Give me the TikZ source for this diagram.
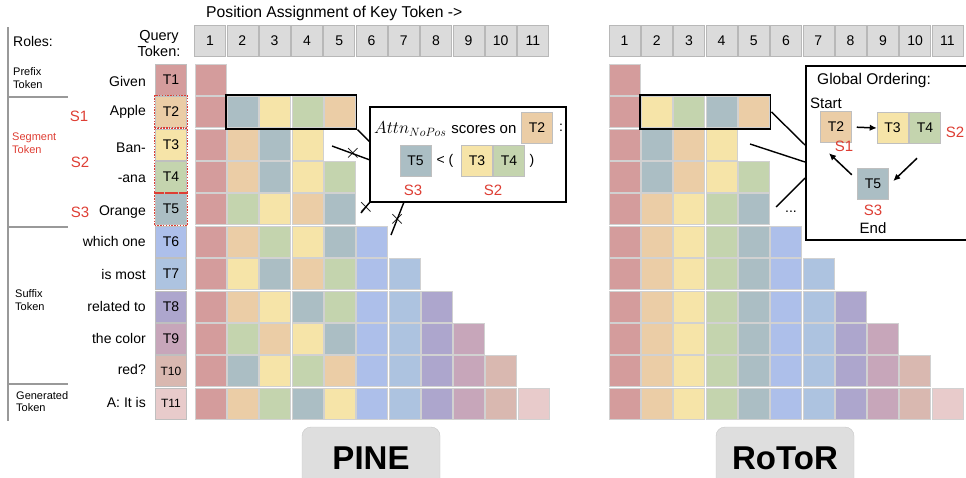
\documentclass[tikz,border=0pt]{standalone}
\usepackage{fontspec}
\setmainfont{Liberation Sans}
\usetikzlibrary{positioning,calc,fit,arrows.meta}
\definecolor{cR}{RGB}{212,156,156}
\definecolor{cO}{RGB}{235,205,166}
\definecolor{cY}{RGB}{246,228,168}
\definecolor{cG}{RGB}{196,212,174}
\definecolor{cB}{RGB}{171,190,196}
\definecolor{cL}{RGB}{173,191,234}
\definecolor{cK}{RGB}{173,195,224}
\definecolor{cP}{RGB}{173,166,205}
\definecolor{cM}{RGB}{199,166,186}
\definecolor{cN}{RGB}{217,184,176}
\definecolor{cW}{RGB}{232,203,203}
\definecolor{sred}{RGB}{222,62,52}
\newcommand{\fsz}[2]{\fontsize{#1}{#2}\selectfont}

\begin{document}
\begin{tikzpicture}
  [
    x=1pt, y=-1pt,
    Cell/.style={rectangle, draw=black!18, line width=0.5pt, minimum size=31pt, inner sep=0pt},
    Head/.style={Cell, fill=black!14, draw=black!28, font=\fsz{14}{16}},
    Tok/.style={Cell, draw=black!25, font=\fsz{14}{16}},
    Word/.style={anchor=base east, inner sep=0pt, font=\fsz{14}{16}},
    Role/.style={anchor=west, align=left, inner sep=0pt, font=\fsz{11}{12.5}},
    Seg/.style={text=sred, inner sep=0pt, font=\fsz{15}{17}},
    Hl/.style={draw=black, line width=1.6pt, inner sep=1.2pt},
    Dot/.style={draw=sred, line width=1.5pt, dash pattern=on 1.4pt off 1.4pt, inner sep=0.6pt},
    Callout/.style={rectangle, draw=black, line width=1.5pt, fill=white},
    Link/.style={line width=1.4pt},
    Arr/.style={-{Latex[length=7pt,width=6.5pt]}, line width=1.5pt},
    Xmark/.style={inner sep=0pt, font=\fsz{22}{22}},
    Btn/.style={rounded corners=9pt, fill=black!13, draw=black!22, font=\bfseries\fsz{33}{36}}
  ]
  \useasboundingbox (0,0) rectangle (966,477);

  % Roles column
  \draw[black!40, line width=2pt] (8,27) -- (8,421);
  \draw[black!40, line width=2pt] (8,97) -- (68,97);
  \draw[black!40, line width=2pt] (8,227) -- (68,227);
  \draw[black!40, line width=2pt] (8,384) -- (68,384);
  \node[Role, font=\fsz{14}{16}] (roles) at (13,41) {Roles:};
  \node[Role] (prefix) at (13,78) {Prefix\\Token};
  \node[Role, text=sred] (segment) at (12,143) {Segment\\Token};
  \node[Role] (suffix) at (15,300) {Suffix\\Token};
  \node[Role] (generated) at (16,401.5) {Generated\\Token};
  \node[Seg] (s1) at (79,116) {S1};
  \node[Seg] (s2) at (80,162) {S2};
  \node[Seg] (s3) at (80,212) {S3};

  % Words and query tokens
  \node[align=center, font=\fsz{14.5}{16}] (qt) at (159,44) {Query\\Token:};
  \node[Word] (w1) at (146,86) {Given};
  \node[Word] (w2) at (146,115) {Apple};
  \node[Word] (w3) at (146,152) {Ban-};
  \node[Word] (w4) at (146,182) {-ana};
  \node[Word] (w5) at (146,215) {Orange};
  \node[Word] (w6) at (146,246) {which one};
  \node[Word] (w7) at (146,279) {is most};
  \node[Word] (w8) at (146,311) {related to};
  \node[Word] (w9) at (146,343) {the color};
  \node[Word] (w10) at (146,374) {red?};
  \node[Word] (w11) at (146,407) {A: It is};
  \foreach \t/\cc/\fs in {1/cR/14, 2/cO/14, 3/cY/14, 4/cG/14, 5/cB/14, 6/cL/14,
      7/cK/14, 8/cP/14, 9/cM/14, 10/cN/12, 11/cW/12}
    \node[Tok, fill=\cc, font=\fsz{\fs}{\fs}] (q\t) at (171, {79.5+(\t-1)*32.4}) {T\t};
  \node[Dot, fit=(q2)] (d2) {};
  \node[Dot, fit=(q3)(q4)] (d34) {};
  \node[Dot, fit=(q5)] (d5) {};

  % Key positions
  \node[anchor=west, inner sep=0pt, font=\fsz{15.7}{17}] (keypos) at (206,13) {Position Assignment of Key Token ->};
  \foreach \c in {1,...,11} {
    \node[Head] (ph\c) at ({210+(\c-1)*32.3}, 41) {\c};
    \node[Head] (rh\c) at ({624.5+(\c-1)*32.3}, 41) {\c};
  }

  % PINE grid
  \foreach \r/\row in {1/{R}, 2/{R,B,Y,G,O}, 3/{R,O,B,Y}, 4/{R,O,B,Y,G}, 5/{R,G,Y,O,B},
      6/{R,O,G,Y,B,L}, 7/{R,Y,B,O,G,L,K}, 8/{R,O,Y,B,G,L,K,P}, 9/{R,G,O,Y,B,L,K,P,M},
      10/{R,B,Y,G,O,L,K,P,M,N}, 11/{R,O,G,B,Y,L,K,P,M,N,W}}
    \foreach \cc [count=\c] in \row
      \node[Cell, fill=c\cc] (p\r-\c) at ({210.5+(\c-1)*32.3}, {79.5+(\r-1)*32.4}) {};
  \node[Hl, fit=(p2-2)(p2-5)] (hlp) {};

  % RoToR grid
  \foreach \r/\row in {1/{R}, 2/{R,Y,G,B,O}, 3/{R,B,O,Y}, 4/{R,B,O,Y,G}, 5/{R,O,Y,G,B},
      6/{R,O,Y,G,B,L}, 7/{R,O,Y,G,B,L,K}, 8/{R,O,Y,G,B,L,K,P}, 9/{R,O,Y,G,B,L,K,P,M},
      10/{R,O,Y,G,B,L,K,P,M,N}, 11/{R,O,Y,G,B,L,K,P,M,N,W}}
    \foreach \cc [count=\c] in \row
      \node[Cell, fill=c\cc] (r\r-\c) at ({624.5+(\c-1)*32.3}, {79.5+(\r-1)*32.4}) {};
  \node[Hl, fit=(r2-2)(r2-5)] (hlr) {};

  % PINE callout
  \node[Callout, minimum width=196pt, minimum height=95pt] (pbox) at (468,154.5) {};
  \node[anchor=west, inner sep=0pt, font=\fsz{15}{17}] (attn) at (374,129) {\fsz{18}{18}$Attn_{NoPos}$ \fsz{15}{17}scores on};
  \node[Tok, fill=cO] (c-t2) at (537,128) {T2};
  \node[font=\fsz{14}{16}] (colon) at (561,128) {:};
  \node[Tok, fill=cB] (c-t5) at (415.5,160.5) {T5};
  \node[font=\fsz{14}{16}] (lt) at (445,160.5) {< (};
  \node[Tok, fill=cY] (c-t3) at (477,160.5) {T3};
  \node[Tok, fill=cG] (c-t4) at (509,160.5) {T4};
  \node[font=\fsz{14}{16}] (rp) at (532,160.5) {)};
  \node[Seg] (c-s3) at (413,190) {S3};
  \node[Seg] (c-s2) at (493,190) {S2};

  % PINE links
  \coordinate (pl1) at (370,142);
  \coordinate (pl2a) at (332,146);
  \coordinate (pl2b) at (370,160);
  \coordinate (pl3) at (361,213);
  \coordinate (pl4a) at (391,235);
  \coordinate (pl4b) at (404,202);
  \draw[Link] (hlp.south east) -- (pl1);
  \draw[Link] (pl2a) -- node[Xmark, pos=0.55] (x1) {$\times$} (pl2b);
  \draw[Link] (pl3) -- node[Xmark, pos=0.6] (x2) {$\times$} (pbox.south west);
  \draw[Link] (pl4a) -- node[Xmark, pos=0.48] (x3) {$\times$} (pl4b);

  % RoToR callout
  \node[Callout, minimum width=180pt, minimum height=174pt, anchor=north west] (rbox) at (805,65) {};
  \node[anchor=west, inner sep=0pt, font=\fsz{15.5}{17}] (glob) at (817,80) {Global Ordering:};
  \node[anchor=west, inner sep=0pt, font=\fsz{15}{17}] (start) at (810,103) {Start};
  \node[Tok, fill=cO] (r-t2) at (836,127) {T2};
  \node[Seg] (r-s1) at (844,146) {S1};
  \node[Tok, fill=cY] (r-t3) at (892.5,128) {T3};
  \node[Tok, fill=cG] (r-t4) at (925,128) {T4};
  \node[Seg] (r-s2) at (955,132) {S2};
  \node[Tok, fill=cB] (r-t5) at (873,183.5) {T5};
  \node[Seg] (r-s3) at (873,210) {S3};
  \node[font=\fsz{15}{17}] (end) at (873,228) {End};
  \draw[Arr, shorten <=5pt] (r-t2.east) -- (r-t3.west);
  \draw[Arr] ($(r-t4.south)+(-8,14.5)$) -- ($(r-t5.east)+(4.5,-2.5)$);
  \draw[Arr] ($(r-t5.north west)+(-5.5,7)$) -- ($(r-t2.south)+(-7,10.5)$);

  % RoToR links
  \coordinate (rl1) at (805,145);
  \coordinate (rl2a) at (750,144);
  \coordinate (rl2b) at (805,162);
  \coordinate (rl3a) at (776,207);
  \coordinate (rl3b) at (805,178);
  \draw[Link] (hlr.east) -- (rl1);
  \draw[Link] (rl2a) -- (rl2b);
  \draw[Link] (rl3a) -- (rl3b);
  \node[font=\fsz{14}{16}] (dots) at (791,212) {...};

  % Method names
  \node[Btn, minimum width=138pt, minimum height=62pt] (pine) at (371,458) {PINE};
  \node[Btn, minimum width=138pt, minimum height=62pt] (rotor) at (785,458) {RoToR};
\end{tikzpicture}
\end{document}
